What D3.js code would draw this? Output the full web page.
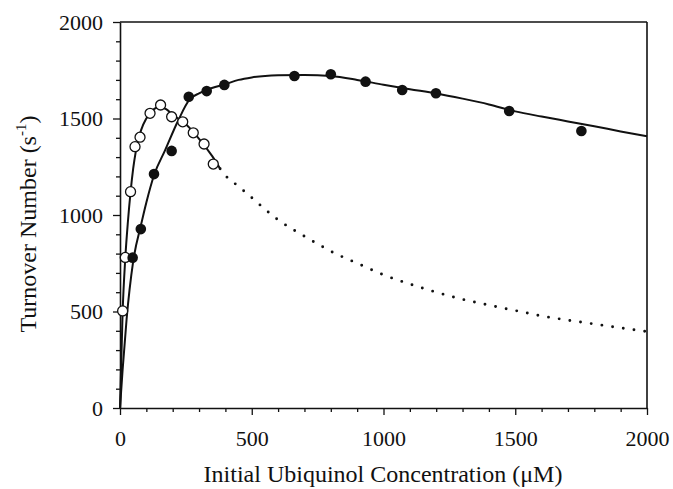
<!DOCTYPE html>
<html>
<head>
<meta charset="utf-8">
<script src="https://cdn.jsdelivr.net/npm/d3@7"></script>
<style>
  html, body { margin: 0; padding: 0; background: #fff; }
  svg text { font-family: "Liberation Serif", "Times New Roman", serif; fill: #111; }
</style>
</head>
<body>
<svg id="chart" width="673" height="489"></svg>
<script>
// Tick values
const xMajorTicks = [0, 500, 1000, 1500, 2000];
const yMajorTicks = [0, 500, 1000, 1500, 2000];
const minorStep = 100;

// Measured turnover, filled symbols
const filledConc = [48, 79, 129, 196, 261, 329, 396, 662, 800, 932, 1071, 1199, 1477, 1751];
const filledRate = [779, 927, 1212, 1332, 1613, 1642, 1674, 1720, 1729, 1691, 1648, 1631, 1539, 1435];

// Measured turnover, open symbols
const openConc = [10, 20, 40, 57, 76, 114, 154, 196, 238, 278, 319, 354];
const openRate = [503, 780, 1121, 1354, 1403, 1527, 1570, 1509, 1483, 1426, 1368, 1264];

// Fitted curve through filled symbols
const filledFitConc = [0, 10, 25, 50, 80, 100, 130, 170, 220, 265, 300, 330, 400, 450, 500, 600, 700, 800, 900, 1000, 1100, 1200, 1300, 1400, 1500, 1600, 1700, 1800, 1900, 2000];
const filledFitRate = [0, 200, 460, 760, 950, 1065, 1210, 1332, 1487, 1600, 1630, 1648, 1678, 1700, 1713, 1724, 1726, 1720, 1700, 1675, 1652, 1630, 1603, 1573, 1537, 1510, 1485, 1460, 1433, 1408];

// Fitted curve through open symbols (solid part)
const openFitConc = [0, 10, 20, 30, 40, 50, 60, 80, 100, 125, 150, 175, 200, 250, 300, 350, 380];
const openFitRate = [0, 500, 775, 965, 1118, 1240, 1330, 1440, 1500, 1545, 1560, 1548, 1520, 1470, 1395, 1305, 1240];

// Extrapolation of the open-symbol fit (dotted part)
const openExtConc = [380, 400, 450, 500, 550, 600, 650, 700, 750, 800, 900, 1000, 1100, 1200, 1300, 1400, 1500, 1600, 1700, 1800, 1900, 2000];
const openExtRate = [1240, 1205, 1148, 1090, 1030, 975, 930, 890, 850, 812, 750, 690, 642, 600, 563, 533, 505, 477, 455, 435, 415, 396];

const zip = (xs, ys) => xs.map((x, i) => [x, ys[i]]);

const svg = d3.select("#chart");
const x = d3.scaleLinear().domain([0, 2000]).range([120, 647]);
const y = d3.scaleLinear().domain([0, 2000]).range([408, 22]);

const minorX = d3.range(0, 2001, minorStep).filter(v => !xMajorTicks.includes(v));
const minorY = d3.range(0, 2001, minorStep).filter(v => !yMajorTicks.includes(v));

// Frame: top and right edges
svg.append("line").attr("x1", x(0)).attr("x2", x(2000)).attr("y1", y(2000)).attr("y2", y(2000))
  .attr("stroke", "#111").attr("stroke-width", 1.6);
svg.append("line").attr("x1", x(2000)).attr("x2", x(2000)).attr("y1", y(2000)).attr("y2", y(0))
  .attr("stroke", "#111").attr("stroke-width", 1.6);

// X axis
svg.append("g").attr("transform", `translate(0,${y(0)})`)
  .call(d3.axisBottom(x).tickValues(xMajorTicks).tickSize(7).tickSizeOuter(0).tickPadding(15).tickFormat(d3.format("d")));
svg.append("g").attr("transform", `translate(0,${y(0)})`)
  .call(d3.axisBottom(x).tickValues(minorX).tickSize(4).tickSizeOuter(0).tickFormat(""))
  .call(g => g.select(".domain").remove());

// Y axis
svg.append("g").attr("transform", `translate(${x(0)},0)`)
  .call(d3.axisLeft(y).tickValues(yMajorTicks).tickSize(7).tickSizeOuter(0).tickPadding(10).tickFormat(d3.format("d")));
svg.append("g").attr("transform", `translate(${x(0)},0)`)
  .call(d3.axisLeft(y).tickValues(minorY).tickSize(4).tickSizeOuter(0).tickFormat(""))
  .call(g => g.select(".domain").remove());

svg.selectAll(".domain").attr("stroke", "#111").attr("stroke-width", 1.6);
svg.selectAll(".tick line").attr("stroke", "#111").attr("stroke-width", 1.3);
svg.selectAll(".tick text").style("font-size", "22px").attr("fill", "#111");

// Curves
const line = d3.line().x(d => x(d[0])).y(d => y(d[1])).curve(d3.curveMonotoneX);

svg.append("path").datum(zip(filledFitConc, filledFitRate)).attr("d", line)
  .attr("fill", "none").attr("stroke", "#111").attr("stroke-width", 2);
svg.append("path").datum(zip(openFitConc, openFitRate)).attr("d", line)
  .attr("fill", "none").attr("stroke", "#111").attr("stroke-width", 2);
svg.append("path").datum(zip(openExtConc, openExtRate)).attr("d", line)
  .attr("fill", "none").attr("stroke", "#111").attr("stroke-width", 2.9)
  .attr("stroke-linecap", "round").attr("stroke-dasharray", "0,10.8");

// Symbols
svg.append("g").selectAll("circle").data(zip(openConc, openRate)).join("circle")
  .attr("cx", d => x(d[0])).attr("cy", d => y(d[1])).attr("r", 5)
  .attr("fill", "#fff").attr("stroke", "#111").attr("stroke-width", 1.3);
svg.append("g").selectAll("circle").data(zip(filledConc, filledRate)).join("circle")
  .attr("cx", d => x(d[0])).attr("cy", d => y(d[1])).attr("r", 5.3)
  .attr("fill", "#111");

// Axis titles
svg.append("text").attr("x", 383).attr("y", 482).attr("text-anchor", "middle")
  .style("font-size", "24px").text("Initial Ubiquinol Concentration (μM)");

const yt = svg.append("text").attr("transform", "translate(36,224) rotate(-90)")
  .attr("text-anchor", "middle").style("font-size", "24px");
yt.append("tspan").text("Turnover Number (s");
yt.append("tspan").attr("dy", -10).style("font-size", "15px").text("-1");
yt.append("tspan").attr("dy", 10).text(")");
</script>
</body>
</html>
